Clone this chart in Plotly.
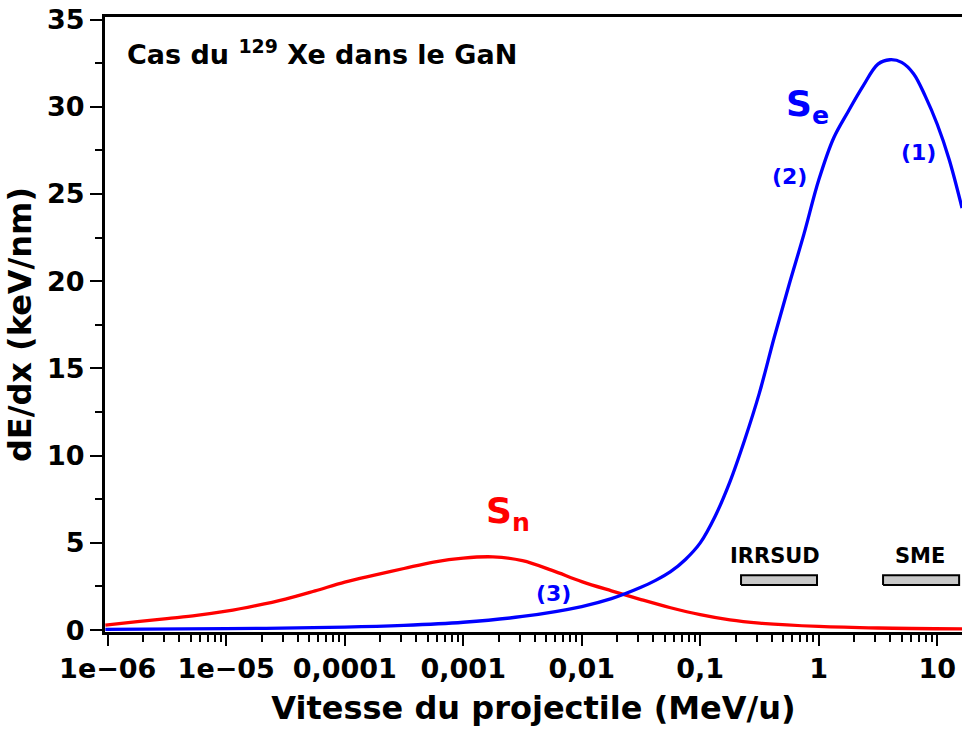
import plotly.graph_objects as go

# Se : electronic stopping (blue)
se_x = [9.55e-7, 1e-5, 1e-4, 3.16e-4, 1e-3, 3.16e-3, 0.01, 0.0178, 0.0316, 0.042,
        0.0562, 0.075, 0.1, 0.133, 0.178, 0.237, 0.316, 0.422, 0.562, 0.750,
        1.0, 1.334, 1.778, 2.371, 3.162, 3.981, 5.012, 6.31, 7.94, 10.0,
        12.59, 16.2]
se_y = [0.04, 0.08, 0.17, 0.27, 0.45, 0.78, 1.35, 1.8, 2.45, 2.85,
        3.35, 4.05, 5.0, 6.5, 8.5, 10.9, 13.6, 16.8, 19.8, 22.7,
        25.8, 28.2, 29.75, 31.2, 32.45, 32.7, 32.55, 31.9, 30.6, 29.0,
        27.0, 24.2]

# Sn : nuclear stopping (red)
sn_x = [9.55e-7, 1.78e-6, 3.16e-6, 5.62e-6, 1e-5, 1.78e-5, 3.16e-5, 5.62e-5, 1e-4, 1.78e-4,
        3.16e-4, 5.62e-4, 1e-3, 1.78e-3, 3.16e-3, 5.62e-3, 0.01, 0.0178, 0.0316, 0.0562,
        0.1, 0.178, 0.316, 1.0, 3.16, 16.2]
sn_y = [0.29, 0.48, 0.66, 0.84, 1.08, 1.40, 1.78, 2.25, 2.75, 3.15,
        3.53, 3.90, 4.13, 4.20, 3.98, 3.42, 2.78, 2.25, 1.75, 1.28,
        0.88, 0.58, 0.40, 0.21, 0.12, 0.07]

# beam line energy ranges
irrsud_x = [0.221, 0.967]
sme_x = [3.49, 15.3]
bar_y = [2.58, 3.15]

x_tickvals = [1e-6, 1e-5, 1e-4, 1e-3, 1e-2, 1e-1, 1, 10]
x_ticktext = ["1e\u221206", "1e\u221205", "0,0001", "0,001", "0,01", "0,1", "1", "10"]
x_minor = [m * d for d in x_tickvals for m in range(2, 10)]
y_tickvals = [0, 5, 10, 15, 20, 25, 30, 35]
y_minor = [2.5, 7.5, 12.5, 17.5, 22.5, 27.5, 32.5]

FONT = "DejaVu Sans"

fig = go.Figure()

fig.add_trace(go.Scatter(x=sn_x, y=sn_y, mode="lines",
                         line=dict(color="#ff0000", width=3.3, shape="spline", smoothing=1.0)))
fig.add_trace(go.Scatter(x=se_x, y=se_y, mode="lines",
                         line=dict(color="#0000ff", width=3.3, shape="spline", smoothing=1.0)))

for bx in (irrsud_x, sme_x):
    fig.add_trace(go.Scatter(x=[bx[0], bx[1], bx[1], bx[0], bx[0]],
                             y=[bar_y[0], bar_y[0], bar_y[1], bar_y[1], bar_y[0]],
                             mode="lines", fill="toself", fillcolor="#c8c8c8",
                             line=dict(color="black", width=2)))

def note(text, x, y, size, color="black", xanchor="center"):
    fig.add_annotation(text=text, x=x, y=y, xref="paper", yref="paper",
                       xanchor=xanchor, yanchor="middle", showarrow=False,
                       font=dict(family=FONT, size=size, color=color, weight="bold"))

note("Cas du <sup>129</sup> Xe dans le GaN", 0.023, 0.943, 27, xanchor="left")
note("S<sub>e</sub>", 0.820, 0.854, 36, "#0000ff")
note("(2)", 0.799, 0.741, 22, "#0000ff")
note("(1)", 0.949, 0.780, 22, "#0000ff")
note("(3)", 0.523, 0.063, 22, "#0000ff")
note("S<sub>n</sub>", 0.470, 0.193, 36, "#ff0000")
note("IRRSUD", 0.782, 0.124, 21)
note("SME", 0.951, 0.124, 21)

fig.update_layout(
    width=962, height=731,
    margin=dict(l=105, r=0, t=17, b=99),
    paper_bgcolor="white", plot_bgcolor="white",
    showlegend=False,
    font=dict(family=FONT, color="black"),
)

fig.update_xaxes(
    type="log", range=[-6.023, 1.209], automargin=False,
    tickmode="array", tickvals=x_tickvals, ticktext=x_ticktext,
    ticks="outside", ticklen=11, tickwidth=2, tickcolor="black",
    minor=dict(tickmode="array", tickvals=x_minor, ticks="outside",
               ticklen=7, tickwidth=1.5, tickcolor="black", showgrid=False),
    showline=True, linewidth=3, linecolor="black", mirror=True,
    showgrid=False, zeroline=False, ticklabeloverflow="allow",
    tickfont=dict(family=FONT, size=27, weight="bold"),
    title=dict(text="Vitesse du projectile (MeV/u)", standoff=14,
               font=dict(family=FONT, size=32, weight="bold")),
)
fig.update_yaxes(
    range=[-0.11, 35.15], automargin=False,
    tickmode="array", tickvals=y_tickvals,
    ticks="outside", ticklen=12, tickwidth=2, tickcolor="black",
    minor=dict(tickmode="array", tickvals=y_minor, ticks="outside",
               ticklen=7, tickwidth=1.5, tickcolor="black", showgrid=False),
    showline=True, linewidth=3, linecolor="black", mirror=True,
    showgrid=False, zeroline=False, ticklabeloverflow="allow",
    tickfont=dict(family=FONT, size=27, weight="bold"),
    title=dict(text="dE/dx (keV/nm)", standoff=6,
               font=dict(family=FONT, size=32, weight="bold")),
)

# drop the page's default 8px body margin so the figure fills the window exactly
fig.write_html("out.html", config={"displayModeBar": False},
               post_script="document.body.style.margin='0';document.body.style.overflow='hidden';")
